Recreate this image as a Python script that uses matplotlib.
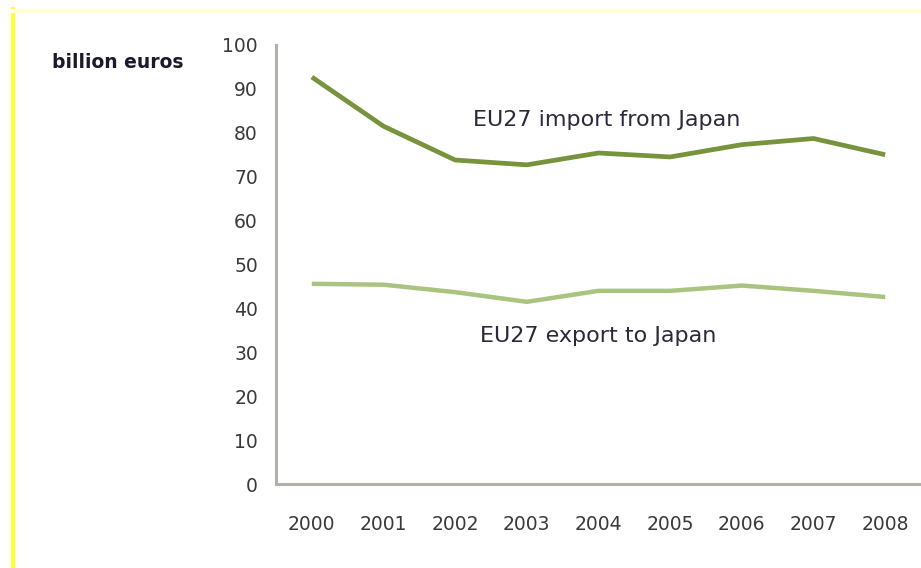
import matplotlib.pyplot as plt
from matplotlib.lines import Line2D

# data
years = ['2000', '2001', '2002', '2003', '2004', '2005', '2006', '2007', '2008']
imports = [92.7, 81.5, 73.8, 72.7, 75.4, 74.5, 77.3, 78.7, 75.0]
exports = [45.6, 45.4, 43.7, 41.5, 44.0, 44.0, 45.2, 44.0, 42.6]

fig = plt.figure(figsize=(9.21, 5.68), dpi=100)
ax = fig.add_axes([276 / 921, 84 / 568, 645 / 921, 439 / 568])

x = range(len(years))
ax.plot(x, imports, color='#77933C', linewidth=3.4, solid_capstyle='butt')
ax.plot(x, exports, color='#A9C47F', linewidth=3.2, solid_capstyle='butt')

ax.set_xlim(-0.5, len(years) - 0.5)
ax.set_ylim(0, 100)
ax.set_yticks(range(0, 101, 10))
ax.set_xticks(list(x))
ax.set_xticklabels(years)

for s in ['top', 'right']:
    ax.spines[s].set_visible(False)
for s in ['left', 'bottom']:
    ax.spines[s].set_color('#B3B0AC')
    ax.spines[s].set_linewidth(2.2)

ax.tick_params(axis='both', length=0, labelsize=13.5, colors='#3a3a3a')
ax.tick_params(axis='y', pad=13)
ax.tick_params(axis='x', pad=22)

ax.text(4.12, 82.9, 'EU27 import from Japan', fontsize=16, color='#2a2a3a',
        ha='center', va='center')
ax.text(4.0, 33.7, 'EU27 export to Japan', fontsize=16, color='#2a2a3a',
        ha='center', va='center')
fig.text(52 / 921, 1 - 63 / 568, 'billion euros', fontsize=13.5, fontweight='bold',
         color='#1a1a2a', ha='left', va='center')

# yellow frame edges
fig.add_artist(Line2D([13 / 921, 13 / 921], [0, 1 - 9 / 568], color='#FFFF33',
                      linewidth=3, transform=fig.transFigure))
fig.add_artist(Line2D([13 / 921, 1], [1 - 11 / 568, 1 - 11 / 568], color='#FFFFD8',
                      linewidth=3, transform=fig.transFigure))

plt.savefig('out.png', dpi=100)
